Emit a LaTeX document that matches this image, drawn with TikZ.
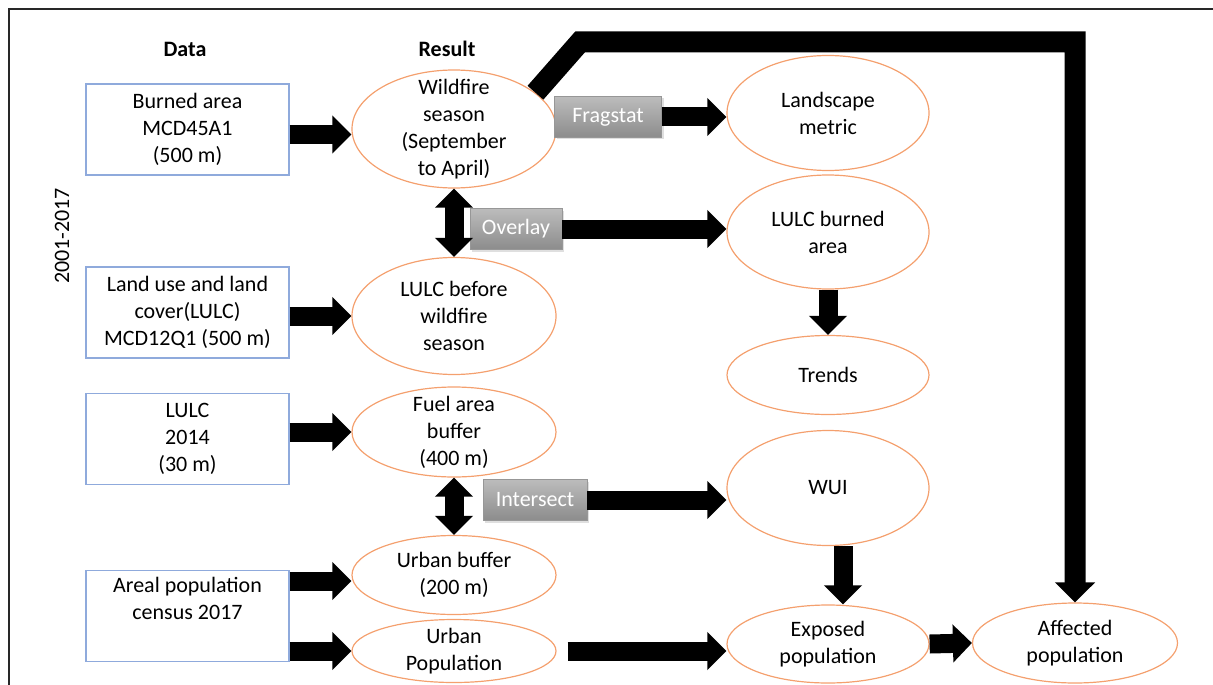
\documentclass[tikz,border=0pt]{standalone}
\usepackage{fontspec}
\setmainfont{Carlito}
\usetikzlibrary{arrows.meta}
\usetikzlibrary{shapes.geometric}
\usetikzlibrary{shadows}

\definecolor{boxblue}{RGB}{143,170,220}
\definecolor{ellorange}{RGB}{244,160,110}
\definecolor{tooltop}{RGB}{188,188,188}
\definecolor{toolbot}{RGB}{140,140,140}
\definecolor{framegray}{RGB}{40,40,40}

\tikzset{
    databox/.style={draw=boxblue, line width=0.6pt, align=center, inner sep=0pt,
        minimum width=101.5pt, minimum height=45.5pt},
    result/.style={draw=ellorange, line width=0.6pt, ellipse, inner sep=0pt},
    rtext/.style={align=center, inner sep=0pt},
    optool/.style={draw=toolbot!90, line width=0.4pt, top color=tooltop, bottom color=toolbot,
        text=white, inner sep=0pt, minimum height=20.5pt,
        drop shadow={shadow xshift=1pt, shadow yshift=-1pt, opacity=0.25}},
    header/.style={font=\fontsize{11}{13.5}\selectfont\bfseries},
    fatarrow/.style={line width=9.5pt, -{Triangle[length=9.5pt,width=18.5pt]}},
    fatboth/.style={line width=9.5pt,
        {Triangle[length=9.5pt,width=18.5pt]}-{Triangle[length=9.5pt,width=18.5pt]}},
}

\begin{document}
\begin{tikzpicture}[x=0.5pt, y=-0.5pt, font=\fontsize{11}{13.5}\selectfont]
    \useasboundingbox (0,0) rectangle (1213,684);
    \draw[framegray, line width=1.2pt] (9,700) -- (9,9) -- (1230,9);

    \node[header] (datahead) at (185,49) {Data};
    \node[header] (reshead) at (447,49) {Result};
    \node[rotate=90] (years) at (62,236) {2001-2017};

    % input data
    \node[databox] (burned) at (187.5,129.5) {Burned area\\MCD45A1\\(500 m)};
    \node[databox] (landuse) at (187.5,312.5) {Land use and land\\cover(LULC)\\MCD12Q1 (500 m)};
    \node[databox] (lulcyear) at (187.5,439) {LULC\\2014\\(30 m)};
    \node[databox] (census) at (187.5,616) {Areal population\\census 2017\\\strut};

    % results
    \node[result, minimum width=102pt, minimum height=59pt,
        label={[rtext]center:Wildfire\\season\\(September\\to April)}] (season) at (454,129) {};
    \node[result, minimum width=102pt, minimum height=58.5pt,
        label={[rtext]center:LULC before\\wildfire\\season}] (lulcpre) at (454,316) {};
    \node[result, minimum width=102pt, minimum height=45pt,
        label={[rtext]center:Fuel area\\buffer\\(400 m)}] (fuel) at (454,432) {};
    \node[result, minimum width=102pt, minimum height=39.5pt,
        label={[rtext]center:Urban buffer\\(200 m)}] (ubuf) at (454,575) {};
    \node[result, minimum width=102pt, minimum height=31.5pt,
        label={[rtext]center:Urban\\Population}] (upop) at (454,651) {};

    \node[result, minimum width=101pt, minimum height=57.5pt,
        label={[rtext]center:Landscape\\metric}] (landscape) at (828,113) {};
    \node[result, minimum width=101pt, minimum height=57pt,
        label={[rtext]center:LULC burned\\area}] (lulcburn) at (828,232) {};
    \node[result, minimum width=101pt, minimum height=39.5pt,
        label={[rtext]center:Trends}] (trends) at (828,375) {};
    \node[result, minimum width=101pt, minimum height=57.5pt,
        label={[rtext]center:WUI}] (wui) at (828,488) {};
    \node[result, minimum width=101pt, minimum height=39pt,
        label={[rtext]center:Exposed\\population}] (exposed) at (828,644) {};
    \node[result, minimum width=102.5pt, minimum height=40pt,
        label={[rtext]center:Affected\\population}] (affected) at (1075,643) {};

    % tools
    \node[optool, minimum width=53.5pt] (fragstat) at (608,117) {Fragstat};
    \node[optool, minimum width=46pt] (overlay) at (516,229) {Overlay};
    \node[optool, minimum width=52pt] (intersect) at (535,500) {Intersect};

    % arrows
    \draw[fatarrow] ([yshift=-2.5pt]burned.east) -- ([yshift=-2.5pt]burned.east -| season.west);
    \draw[fatarrow] (landuse.east |- lulcpre.west) -- (lulcpre.west);
    \draw[fatarrow] (lulcyear.east |- fuel.west) -- (fuel.west);
    \draw[fatarrow] ([yshift=-3pt]census.east |- ubuf.west) -- ([yshift=-3pt]ubuf.west);
    \draw[fatarrow] (census.east |- upop.west) -- (upop.west);
    \draw[fatboth] (season.south) -- (lulcpre.north);
    \draw[fatboth] (fuel.south) -- (ubuf.north);
    \draw[fatarrow] (fragstat.east) -- (fragstat.east -| landscape.west);
    \draw[fatarrow] (overlay.east) -- (overlay.east -| lulcburn.west);
    \draw[fatarrow] (intersect.east) -- (intersect.east -| wui.west);
    \draw[fatarrow] (lulcburn.south) -- (trends.north);
    \draw[fatarrow] ([xshift=7.5pt]wui.south) -- ([xshift=7.5pt]exposed.north);
    \draw[fatarrow, shorten <=5.5pt] (upop.east) -- (upop.east -| exposed.west);
    \draw[fatarrow] (exposed.east) -- (affected.west);
    \coordinate (bend) at (580,42);
    \draw[line width=10.5pt, line join=miter, -{Triangle[length=10pt,width=19.5pt]}]
        (season.24) -- (bend) -| (affected.north);
\end{tikzpicture}
\end{document}
